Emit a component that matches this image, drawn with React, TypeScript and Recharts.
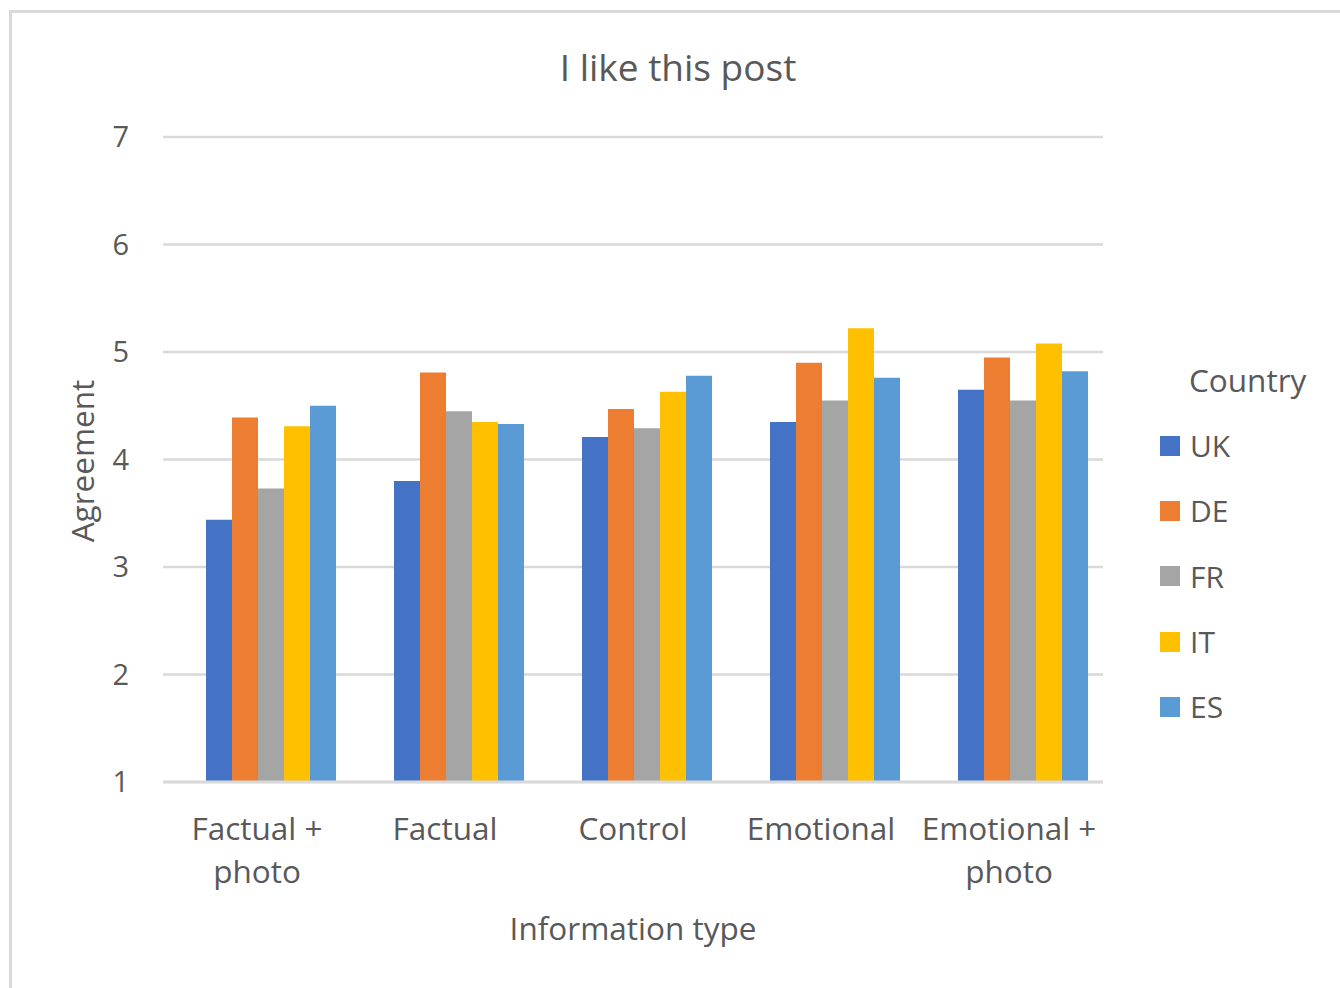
import { Bar, BarChart, CartesianGrid, Legend, XAxis, YAxis } from 'recharts';

const categories = ['Factual + photo', 'Factual', 'Control', 'Emotional', 'Emotional + photo'];
const countries = ['UK', 'DE', 'FR', 'IT', 'ES'];
const colors = ['#4472C4', '#ED7D31', '#A5A5A5', '#FFC000', '#5B9BD5'];
const yTicks = [1, 2, 3, 4, 5, 6, 7];

const ukValues = [3.44, 3.8, 4.21, 4.35, 4.65];
const deValues = [4.39, 4.81, 4.47, 4.9, 4.95];
const frValues = [3.73, 4.45, 4.29, 4.55, 4.55];
const itValues = [4.31, 4.35, 4.63, 5.22, 5.08];
const esValues = [4.5, 4.33, 4.78, 4.76, 4.82];

const seriesValues = [ukValues, deValues, frValues, itValues, esValues];

const data = categories.map((name, i) => {
  const row: Record<string, string | number> = { name };
  countries.forEach((c, j) => {
    row[c] = seriesValues[j][i];
  });
  return row;
});

const FONT = '"Open Sans", Lato, sans-serif';
const TEXT = '#595959';
const GRID = '#d9d9d9';

const CategoryTick = ({ x, y, payload }: any) => {
  const parts = String(payload.value).split(' + ');
  const lines = parts.length > 1 ? [parts[0] + ' +', parts[1]] : parts;
  return (
    <text x={x} y={y} textAnchor='middle' fill={TEXT} fontSize={31.5}>
      {lines.map((line, i) => (
        <tspan key={i} x={x} dy={i === 0 ? 58 : 43}>
          {line}
        </tspan>
      ))}
    </text>
  );
};

const CountryLegend = () => (
  <div style={{ fontFamily: FONT, color: TEXT }}>
    <div style={{ fontSize: 31.5, marginLeft: 29, height: 40, lineHeight: '40px' }}>Country</div>
    {countries.map((c, i) => (
      <div
        key={c}
        style={{ display: 'flex', alignItems: 'center', height: 65.3, marginTop: i === 0 ? 13 : 0 }}
      >
        <span style={{ width: 20, height: 20, background: colors[i], display: 'inline-block' }} />
        <span style={{ fontSize: 30, marginLeft: 10 }}>{c}</span>
      </div>
    ))}
  </div>
);

export default function App() {
  return (
    <div
      style={{
        position: 'absolute',
        left: 0,
        top: 0,
        width: 1340,
        height: 988,
        overflow: 'hidden',
        background: '#fff',
        fontFamily: FONT,
      }}
    >
      <div
        style={{
          position: 'absolute',
          left: 9,
          top: 10,
          width: 1360,
          height: 1000,
          border: `3px solid ${GRID}`,
          boxSizing: 'border-box',
        }}
      />
      <div
        style={{
          position: 'absolute',
          left: 678,
          top: 66,
          transform: 'translate(-50%, -50%)',
          fontSize: 37,
          color: TEXT,
          whiteSpace: 'nowrap',
        }}
      >
        I like this post
      </div>
      <div
        style={{
          position: 'absolute',
          left: 81,
          top: 461,
          transform: 'translate(-50%, -50%) rotate(-90deg)',
          fontSize: 31.5,
          color: TEXT,
          whiteSpace: 'nowrap',
        }}
      >
        Agreement
      </div>
      <div
        style={{
          position: 'absolute',
          left: 633,
          top: 927,
          transform: 'translate(-50%, -50%)',
          fontSize: 31.5,
          color: TEXT,
          whiteSpace: 'nowrap',
        }}
      >
        Information type
      </div>
      <BarChart
        width={1340}
        height={988}
        data={data}
        margin={{ top: 137, right: 237, left: 103, bottom: 146 }}
        barCategoryGap={17}
        barGap={0}
        style={{ position: 'absolute', left: 0, top: 0 }}
      >
        <CartesianGrid horizontal vertical={false} stroke={GRID} strokeWidth={2.5} />
        <XAxis
          dataKey='name'
          height={60}
          tickLine={false}
          tickSize={0}
          tickMargin={0}
          axisLine={{ stroke: GRID, strokeWidth: 3 }}
          tick={<CategoryTick />}
          interval={0}
        />
        <YAxis
          width={60}
          domain={[1, 7]}
          ticks={yTicks}
          axisLine={false}
          tickLine={false}
          tickSize={0}
          tickMargin={34}
          tick={{ fill: TEXT, fontSize: 29 }}
        />
        <Legend
          layout='horizontal'
          align='center'
          verticalAlign='middle'
          content={<CountryLegend />}
          wrapperStyle={{ left: 1160, top: 360, width: 180 }}
        />
        {/* empty leading slot: the reference groups sit right of the tick centre */}
        <Bar dataKey='spacer' fill='none' isAnimationActive={false} />
        {countries.map((c, i) => (
          <Bar key={c} dataKey={c} fill={colors[i]} isAnimationActive={false} />
        ))}
      </BarChart>
    </div>
  );
}
